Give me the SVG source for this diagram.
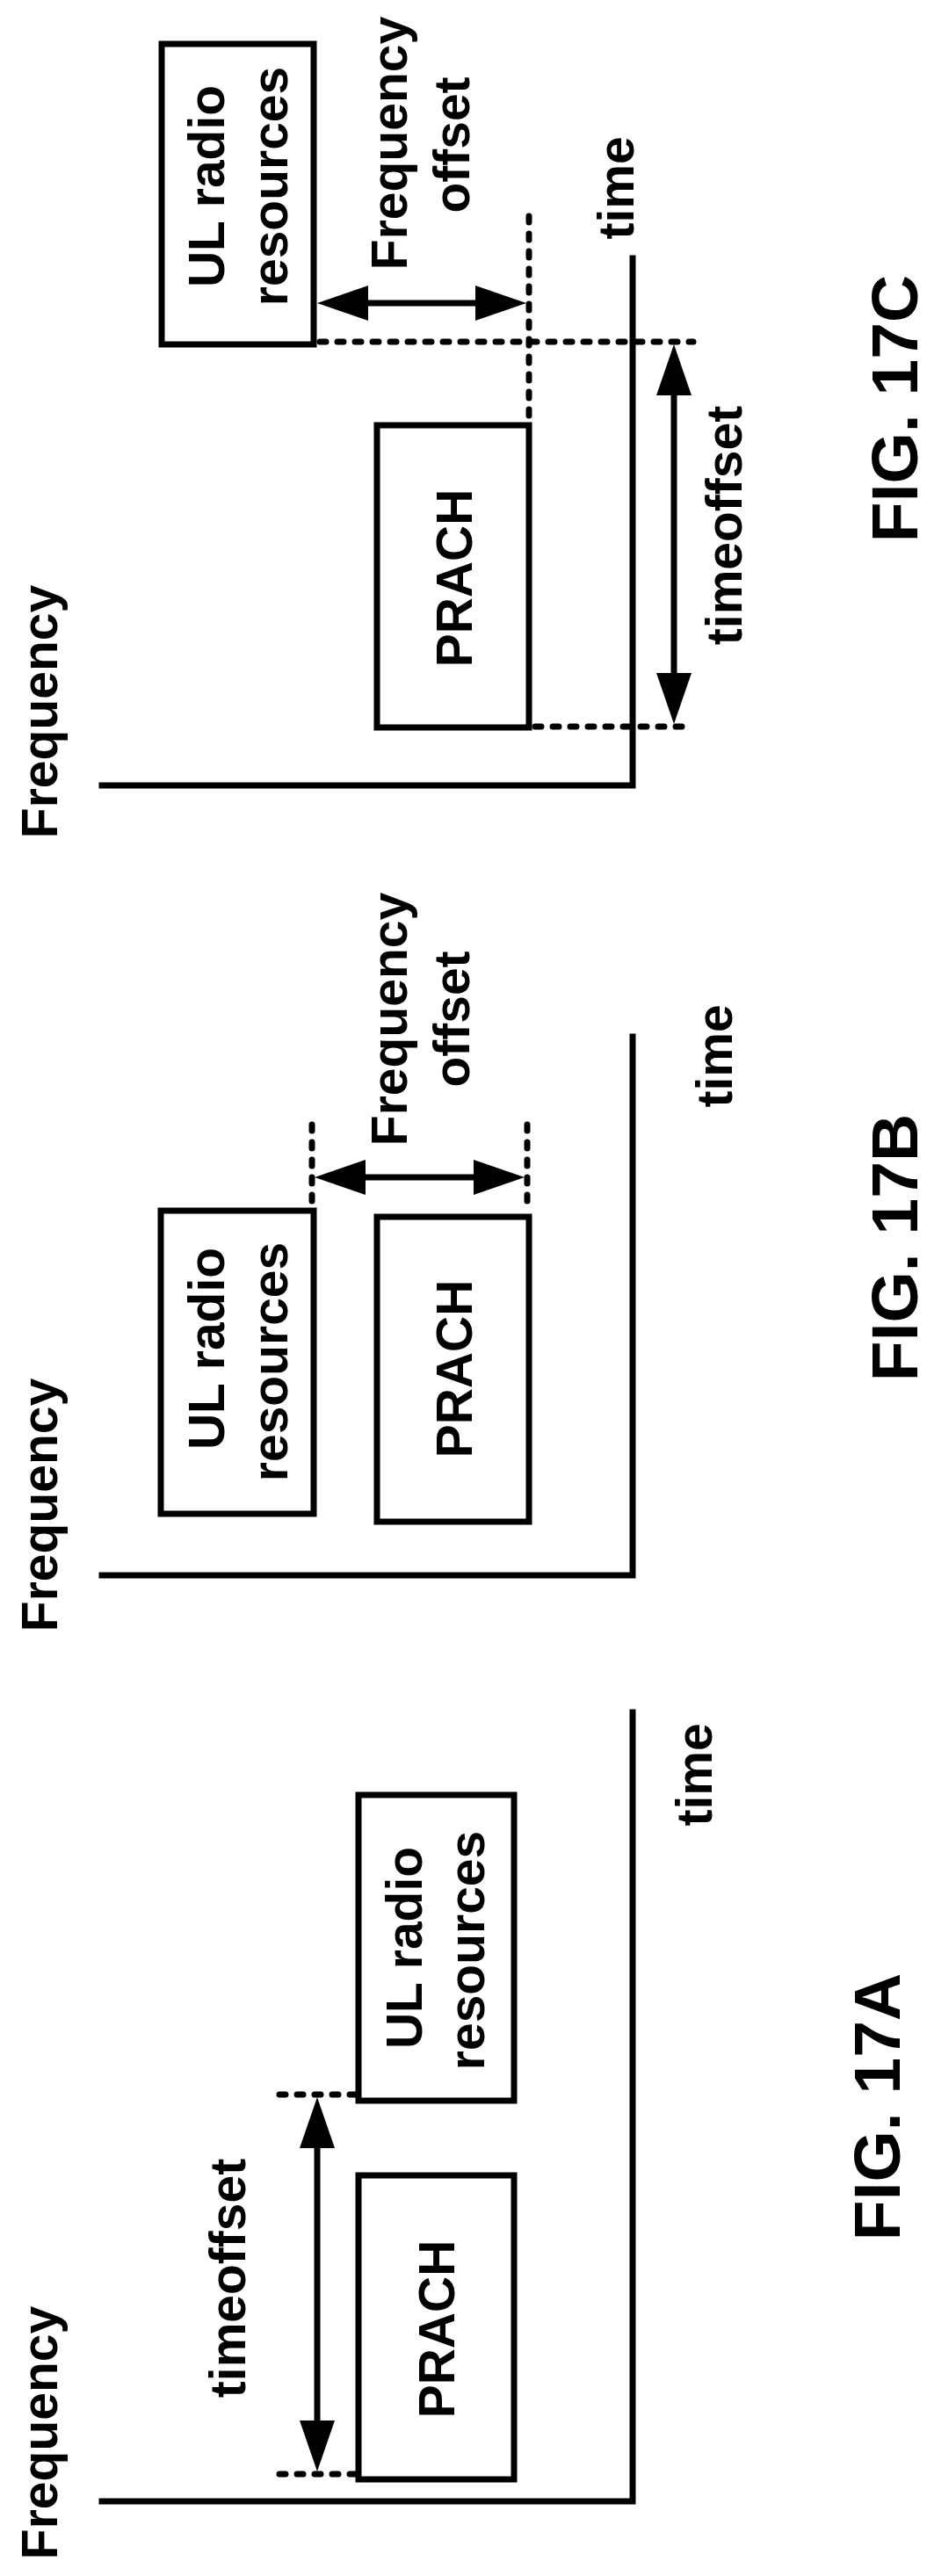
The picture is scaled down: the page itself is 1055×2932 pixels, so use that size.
<svg xmlns="http://www.w3.org/2000/svg" width="1055" height="2932" viewBox="0 0 1055 2932">
<style>
.ax{stroke:#000;stroke-width:7;fill:none;stroke-linecap:square}
.box{stroke:#000;stroke-width:7;fill:#fff}
.dot{stroke:#000;stroke-width:7;fill:none;stroke-linecap:round;stroke-dasharray:7 13}
.arr{stroke:#000;stroke-width:7;fill:none}
.hd{fill:#000}
text{font-family:"Liberation Sans",Arial,sans-serif;font-weight:bold;font-size:57px;text-anchor:middle;fill:#000}
.fig{font-size:75px}
</style>
<rect width="1055" height="2932" fill="#fff"/>
<!-- FIG 17C -->
<g id="fig17C">
<g id="c-axes"><path class="ax" d="M116 894 H720 V294"/></g>
<g id="c-ul"><rect class="box" x="184" y="50" width="173" height="342"/>
<text transform="translate(255,212) rotate(-90)">UL radio</text>
<text transform="translate(327,212) rotate(-90)">resources</text></g>
<g id="c-prach"><rect class="box" x="429" y="484" width="173" height="344"/>
<text transform="translate(537,658) rotate(-90)">PRACH</text></g>
<g id="c-conn">
<path class="dot" d="M602 246 V484"/>
<path class="dot" d="M364 389 H789"/>
<path class="dot" d="M609 827 H789"/>
<path class="arr" d="M400 345 H560"/>
<polygon class="hd" points="361,345 419,325 419,365"/>
<polygon class="hd" points="599,345 541,325 541,365"/>
<path class="arr" d="M767 430 V785"/>
<polygon class="hd" points="767,392 747,450 787,450"/>
<polygon class="hd" points="767,824 747,766 787,766"/>
</g>
<text transform="translate(65,810) rotate(-90)">Frequency</text>
<text transform="translate(463,163) rotate(-90)">Frequency</text>
<text transform="translate(534,165) rotate(-90)">offset</text>
<text transform="translate(721,214) rotate(-90)">time</text>
<text transform="translate(844,598) rotate(-90)">timeoffset</text>
<text class="fig" transform="translate(1044,465) rotate(-90)">FIG. 17C</text>
</g>
<!-- FIG 17B -->
<g id="fig17B">
<g id="b-axes"><path class="ax" d="M116 1793 H720 V1180"/></g>
<g id="b-ul"><rect class="box" x="183" y="1378" width="174" height="345"/>
<text transform="translate(255,1535) rotate(-90)">UL radio</text>
<text transform="translate(327,1550) rotate(-90)">resources</text></g>
<g id="b-prach"><rect class="box" x="429" y="1385" width="173" height="347"/>
<text transform="translate(537,1558) rotate(-90)">PRACH</text></g>
<g id="b-conn">
<path class="dot" d="M355 1280 V1372"/>
<path class="dot" d="M600 1280 V1378"/>
<path class="arr" d="M395 1340 H560"/>
<polygon class="hd" points="358,1340 416,1320 416,1360"/>
<polygon class="hd" points="597,1340 539,1320 539,1360"/>
</g>
<text transform="translate(65,1713) rotate(-90)">Frequency</text>
<text transform="translate(463,1160) rotate(-90)">Frequency</text>
<text transform="translate(534,1160) rotate(-90)">offset</text>
<text transform="translate(833,1202) rotate(-90)">time</text>
<text class="fig" transform="translate(1044,1420) rotate(-90)">FIG. 17B</text>
</g>
<!-- FIG 17A -->
<g id="fig17A">
<g id="a-axes"><path class="ax" d="M116 2847 H720 V1949"/></g>
<g id="a-ul"><rect class="box" x="408" y="2043" width="177" height="348"/>
<text transform="translate(480,2217) rotate(-90)">UL radio</text>
<text transform="translate(551,2220) rotate(-90)">resources</text></g>
<g id="a-prach"><rect class="box" x="408" y="2476" width="177" height="346"/>
<text transform="translate(517,2651) rotate(-90)">PRACH</text></g>
<g id="a-conn">
<path class="dot" d="M318 2384 H408"/>
<path class="dot" d="M318 2816 H408"/>
<path class="arr" d="M361 2420 V2780"/>
<polygon class="hd" points="361,2387 341,2445 381,2445"/>
<polygon class="hd" points="361,2813 341,2755 381,2755"/>
</g>
<text transform="translate(65,2769) rotate(-90)">Frequency</text>
<text transform="translate(279,2593) rotate(-90)">timeoffset</text>
<text transform="translate(810,2020) rotate(-90)">time</text>
<text class="fig" transform="translate(1024,2398) rotate(-90)">FIG. 17A</text>
</g>
</svg>
